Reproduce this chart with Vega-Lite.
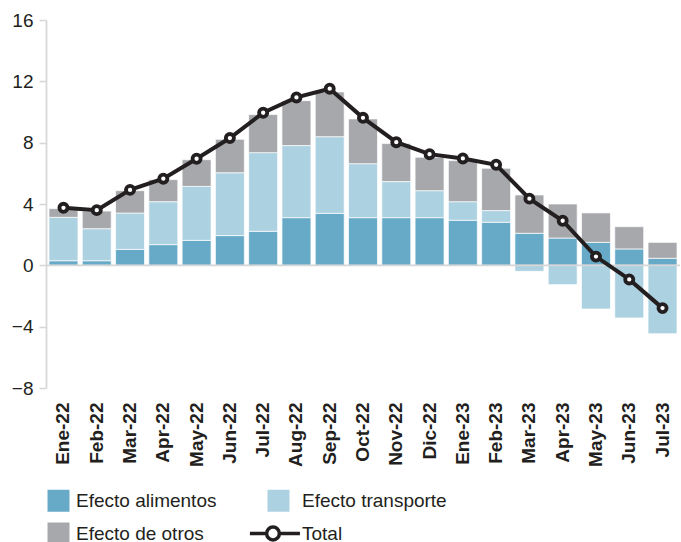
{
  "$schema": "https://vega.github.io/schema/vega-lite/v6.json",
  "width": 634,
  "height": 368,
  "autosize": {"type": "none"},
  "padding": {"left": 46, "top": 20, "right": 1, "bottom": 154},
  "background": "white",
  "config": {
    "font": "Liberation Sans",
    "view": {"stroke": null}
  },
  "datasets": {
    "barras": [
      {"mes": "Ene-22", "componente": "Efecto alimentos", "orden": 1, "valor": 0.3},
      {"mes": "Ene-22", "componente": "Efecto transporte", "orden": 2, "valor": 2.83},
      {"mes": "Ene-22", "componente": "Efecto de otros", "orden": 3, "valor": 0.57},
      {"mes": "Feb-22", "componente": "Efecto alimentos", "orden": 1, "valor": 0.3},
      {"mes": "Feb-22", "componente": "Efecto transporte", "orden": 2, "valor": 2.09},
      {"mes": "Feb-22", "componente": "Efecto de otros", "orden": 3, "valor": 1.15},
      {"mes": "Mar-22", "componente": "Efecto alimentos", "orden": 1, "valor": 1.04},
      {"mes": "Mar-22", "componente": "Efecto transporte", "orden": 2, "valor": 2.37},
      {"mes": "Mar-22", "componente": "Efecto de otros", "orden": 3, "valor": 1.46},
      {"mes": "Apr-22", "componente": "Efecto alimentos", "orden": 1, "valor": 1.35},
      {"mes": "Apr-22", "componente": "Efecto transporte", "orden": 2, "valor": 2.8},
      {"mes": "Apr-22", "componente": "Efecto de otros", "orden": 3, "valor": 1.44},
      {"mes": "May-22", "componente": "Efecto alimentos", "orden": 1, "valor": 1.63},
      {"mes": "May-22", "componente": "Efecto transporte", "orden": 2, "valor": 3.52},
      {"mes": "May-22", "componente": "Efecto de otros", "orden": 3, "valor": 1.74},
      {"mes": "Jun-22", "componente": "Efecto alimentos", "orden": 1, "valor": 1.94},
      {"mes": "Jun-22", "componente": "Efecto transporte", "orden": 2, "valor": 4.1},
      {"mes": "Jun-22", "componente": "Efecto de otros", "orden": 3, "valor": 2.18},
      {"mes": "Jul-22", "componente": "Efecto alimentos", "orden": 1, "valor": 2.22},
      {"mes": "Jul-22", "componente": "Efecto transporte", "orden": 2, "valor": 5.13},
      {"mes": "Jul-22", "componente": "Efecto de otros", "orden": 3, "valor": 2.48},
      {"mes": "Aug-22", "componente": "Efecto alimentos", "orden": 1, "valor": 3.11},
      {"mes": "Aug-22", "componente": "Efecto transporte", "orden": 2, "valor": 4.7},
      {"mes": "Aug-22", "componente": "Efecto de otros", "orden": 3, "valor": 2.93},
      {"mes": "Sep-22", "componente": "Efecto alimentos", "orden": 1, "valor": 3.39},
      {"mes": "Sep-22", "componente": "Efecto transporte", "orden": 2, "valor": 5.0},
      {"mes": "Sep-22", "componente": "Efecto de otros", "orden": 3, "valor": 2.92},
      {"mes": "Oct-22", "componente": "Efecto alimentos", "orden": 1, "valor": 3.11},
      {"mes": "Oct-22", "componente": "Efecto transporte", "orden": 2, "valor": 3.52},
      {"mes": "Oct-22", "componente": "Efecto de otros", "orden": 3, "valor": 2.92},
      {"mes": "Nov-22", "componente": "Efecto alimentos", "orden": 1, "valor": 3.11},
      {"mes": "Nov-22", "componente": "Efecto transporte", "orden": 2, "valor": 2.35},
      {"mes": "Nov-22", "componente": "Efecto de otros", "orden": 3, "valor": 2.48},
      {"mes": "Dic-22", "componente": "Efecto alimentos", "orden": 1, "valor": 3.11},
      {"mes": "Dic-22", "componente": "Efecto transporte", "orden": 2, "valor": 1.76},
      {"mes": "Dic-22", "componente": "Efecto de otros", "orden": 3, "valor": 2.18},
      {"mes": "Ene-23", "componente": "Efecto alimentos", "orden": 1, "valor": 2.94},
      {"mes": "Ene-23", "componente": "Efecto transporte", "orden": 2, "valor": 1.21},
      {"mes": "Ene-23", "componente": "Efecto de otros", "orden": 3, "valor": 2.68},
      {"mes": "Feb-23", "componente": "Efecto alimentos", "orden": 1, "valor": 2.81},
      {"mes": "Feb-23", "componente": "Efecto transporte", "orden": 2, "valor": 0.76},
      {"mes": "Feb-23", "componente": "Efecto de otros", "orden": 3, "valor": 2.76},
      {"mes": "Mar-23", "componente": "Efecto alimentos", "orden": 1, "valor": 2.09},
      {"mes": "Mar-23", "componente": "Efecto transporte", "orden": 2, "valor": -0.39},
      {"mes": "Mar-23", "componente": "Efecto de otros", "orden": 3, "valor": 2.5},
      {"mes": "Apr-23", "componente": "Efecto alimentos", "orden": 1, "valor": 1.78},
      {"mes": "Apr-23", "componente": "Efecto transporte", "orden": 2, "valor": -1.26},
      {"mes": "Apr-23", "componente": "Efecto de otros", "orden": 3, "valor": 2.22},
      {"mes": "May-23", "componente": "Efecto alimentos", "orden": 1, "valor": 1.5},
      {"mes": "May-23", "componente": "Efecto transporte", "orden": 2, "valor": -2.85},
      {"mes": "May-23", "componente": "Efecto de otros", "orden": 3, "valor": 1.92},
      {"mes": "Jun-23", "componente": "Efecto alimentos", "orden": 1, "valor": 1.07},
      {"mes": "Jun-23", "componente": "Efecto transporte", "orden": 2, "valor": -3.43},
      {"mes": "Jun-23", "componente": "Efecto de otros", "orden": 3, "valor": 1.45},
      {"mes": "Jul-23", "componente": "Efecto alimentos", "orden": 1, "valor": 0.46},
      {"mes": "Jul-23", "componente": "Efecto transporte", "orden": 2, "valor": -4.46},
      {"mes": "Jul-23", "componente": "Efecto de otros", "orden": 3, "valor": 1.04}
    ],
    "total": [
      {"mes": "Ene-22", "total": 3.75},
      {"mes": "Feb-22", "total": 3.6},
      {"mes": "Mar-22", "total": 4.92},
      {"mes": "Apr-22", "total": 5.65},
      {"mes": "May-22", "total": 6.95},
      {"mes": "Jun-22", "total": 8.3},
      {"mes": "Jul-22", "total": 9.95},
      {"mes": "Aug-22", "total": 10.95},
      {"mes": "Sep-22", "total": 11.52},
      {"mes": "Oct-22", "total": 9.62},
      {"mes": "Nov-22", "total": 8.03},
      {"mes": "Dic-22", "total": 7.25},
      {"mes": "Ene-23", "total": 6.97},
      {"mes": "Feb-23", "total": 6.56},
      {"mes": "Mar-23", "total": 4.35},
      {"mes": "Apr-23", "total": 2.91},
      {"mes": "May-23", "total": 0.57},
      {"mes": "Jun-23", "total": -0.92},
      {"mes": "Jul-23", "total": -2.79}
    ],
    "cero": [{"nivel": 0}]
  },
  "layer": [
    {
      "data": {"name": "barras"},
      "mark": {"type": "bar", "stroke": "white", "strokeWidth": 0.7},
      "encoding": {
        "x": {
          "field": "mes",
          "type": "nominal",
          "sort": null,
          "scale": {"paddingInner": 0.13, "paddingOuter": 0.09},
          "axis": {
            "title": null,
            "domain": false,
            "ticks": false,
            "labelAngle": -90,
            "labelAlign": "right",
            "labelBaseline": "middle",
            "labelPadding": 14,
            "labelFontSize": 19,
            "labelFontWeight": "bold",
            "labelColor": "#231f20",
            "labelFont": "Liberation Sans"
          }
        },
        "y": {
          "field": "valor",
          "type": "quantitative",
          "stack": "zero",
          "scale": {"domain": [-8, 16], "nice": false, "zero": false},
          "axis": {
            "title": null,
            "grid": false,
            "values": [-8, -4, 0, 4, 8, 12, 16],
            "domainColor": "#d6d6d6",
            "domainWidth": 1.7,
            "tickColor": "#d6d6d6",
            "tickWidth": 1.5,
            "tickSize": 7,
            "labelPadding": 6,
            "labelFontSize": 19,
            "labelColor": "#231f20",
            "labelFont": "Liberation Sans"
          }
        },
        "color": {
          "field": "componente",
          "type": "nominal",
          "scale": {
            "domain": ["Efecto alimentos", "Efecto transporte", "Efecto de otros", "Total"],
            "range": ["#67aac8", "#acd1e1", "#a7a8ac", "#ffffff"]
          },
          "legend": {
            "title": null,
            "orient": "none",
            "direction": "horizontal",
            "legendX": 3,
            "legendY": 471,
            "columns": 2,
            "columnPadding": 25,
            "rowPadding": 8,
            "padding": 0,
            "symbolSize": 484,
            "labelFontSize": 19,
            "labelFont": "Liberation Sans",
            "labelColor": "#231f20",
            "labelOffset": 11,
            "labelLimit": 0,
            "encoding": {
              "symbols": {
                "shape": {"value": {"expr": "datum.value === 'Total' ? 'M-2.6,0H-1.08M0.08,0H1.95M-1.08,0A0.58,0.58,0,1,1,0.08,0A0.58,0.58,0,1,1,-1.08,0Z' : 'square'"}},
                "fill": {"value": {"expr": "datum.value === 'Total' ? '#ffffff' : scale('color', datum.value)"}},
                "stroke": {"value": {"expr": "datum.value === 'Total' ? '#231f20' : 'transparent'"}},
                "strokeWidth": {"value": {"expr": "datum.value === 'Total' ? 3.5 : 0"}},
                "opacity": {"value": 1}
              },
              "labels": {
                "dx": {"value": {"expr": "(datum.value === 'Efecto transporte' || datum.value === 'Total') ? 3 : -3"}}
              }
            }
          }
        },
        "order": {"field": "orden", "type": "quantitative"}
      }
    },
    {
      "data": {"name": "cero"},
      "mark": {"type": "rule", "color": "#d6d6d6", "strokeWidth": 1.8},
      "encoding": {"y": {"field": "nivel", "type": "quantitative"}}
    },
    {
      "data": {"name": "total"},
      "mark": {"type": "line", "color": "#231f20", "strokeWidth": 4},
      "encoding": {
        "x": {"field": "mes", "type": "nominal", "sort": null},
        "y": {"field": "total", "type": "quantitative"}
      }
    },
    {
      "data": {"name": "total"},
      "mark": {"type": "point", "filled": true, "fill": "white", "stroke": "#231f20", "strokeWidth": 3.8, "size": 66, "opacity": 1},
      "encoding": {
        "x": {"field": "mes", "type": "nominal", "sort": null},
        "y": {"field": "total", "type": "quantitative"}
      }
    }
  ]
}
